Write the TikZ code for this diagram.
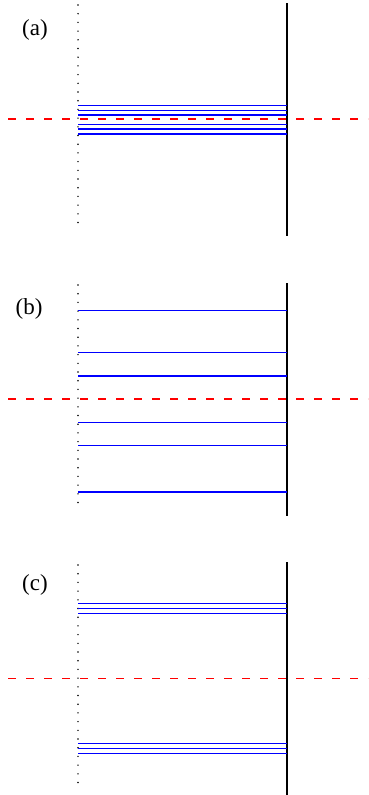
\documentclass[tikz,border=0pt]{standalone}
\usepackage{fontspec}
\setmainfont{Liberation Serif}
\usetikzlibrary{positioning}

\begin{document}
\begin{tikzpicture}[
  x=1pt, y=-1pt,
  mirror/.style={line width=1.6pt, line cap=round, dash pattern=on 0pt off 8.7pt},
  screen/.style={line width=1.3pt, black},
  axisline/.style={line width=1.2pt, red, dash pattern=on 8pt off 10pt},
  ray/.style={line width=1.3pt, blue},
  tag/.style={font=\fontsize{23}{26}\selectfont, inner sep=0pt}
]
  \useasboundingbox (0,0) rectangle (368,795);

  % (a) rays bunched round the axis
  \begin{scope}
    \draw[mirror] (78,5) -- (78,229);
    \draw[screen] (287,3) -- (287,236);
    \foreach \y in {105.3,110.3,115,124.3,129,134}
      \draw[ray] (78,\y) -- (287,\y);
    \draw[axisline] (8,119) -- (368,119);
    \node[tag] (tagA) at (35,30) {(a)};
  \end{scope}

  % (b) rays spread out
  \begin{scope}[yshift=-280pt]
    \draw[mirror] (78,5) -- (78,229);
    \draw[screen] (287,3) -- (287,236);
    \foreach \y in {30.7,72.7,96,142.7,165.7,212}
      \draw[ray] (78,\y) -- (287,\y);
    \draw[axisline] (8,119) -- (368,119);
    \node[tag] (tagB) at (29,29) {(b)};
  \end{scope}

  % (c) two bunches away from the axis
  \begin{scope}[yshift=-560pt]
    \draw[mirror] (78,5) -- (78,229);
    \draw[screen] (287,2) -- (287,235);
    \foreach \y in {43.7,48.7,53.3,183.7,188.7,193.3}
      \draw[ray] (78,\y) -- (287,\y);
    \draw[axisline] (8,118.3) -- (368,118.3);
    \node[tag] (tagC) at (35,25) {(c)};
  \end{scope}
\end{tikzpicture}
\end{document}
